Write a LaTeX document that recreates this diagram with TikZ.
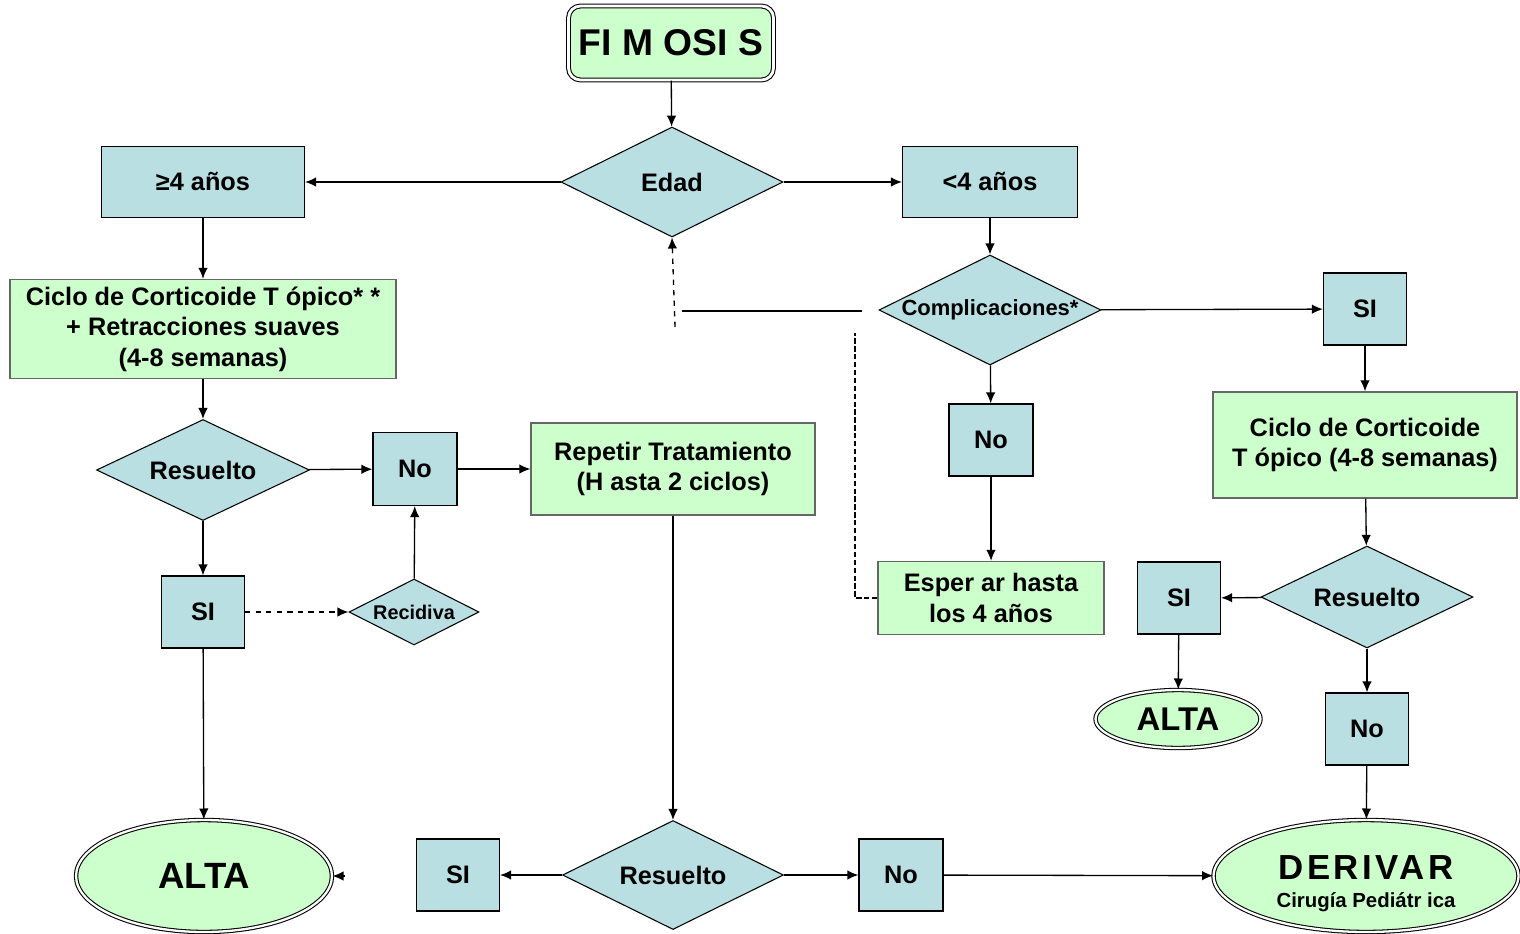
\documentclass[tikz,border=0pt]{standalone}
\usepackage{fontspec}
\setmainfont{Liberation Sans}
\usetikzlibrary{shapes.geometric,arrows.meta}
\definecolor{azul}{RGB}{185,223,227}
\definecolor{verdec}{RGB}{204,255,204}

\begin{document}
\begin{tikzpicture}[x=0.02cm,y=-0.02cm,
	font=\bfseries\fontsize{14.4}{17.3}\selectfont,
	caja/.style={draw,fill=azul,line width=0.7pt,inner sep=0pt,align=center},
	verde/.style={draw=black!60,fill=verdec,line width=0.8pt,inner sep=0pt,align=center},
	rombo/.style={diamond,draw,fill=azul,line width=0.6pt,inner sep=0pt,aspect=2},
	final/.style={ellipse,draw,double,double distance=1.3pt,line width=0.6pt,fill=verdec,inner sep=0pt,align=center},
	flecha/.style={->,>={Latex[length=2.2mm,width=1.9mm]},line width=0.75pt}]
			\useasboundingbox (0,0) rectangle (1520,933);
			% cabecera
			\node[draw,double,double distance=1.6pt,line width=0.6pt,fill=verdec,rounded corners=0.24cm,minimum width=4.1cm,minimum height=1.48cm,font=\bfseries\fontsize{21.2}{24}\selectfont] (fimosis) at (671,43){FI M OSI S};
			\node[rombo,minimum width=4.44cm,minimum height=2.2cm] (edad) at (672,182){Edad};
			\node[caja,minimum width=4.06cm,minimum height=1.42cm] (mayor) at (203,182){≥4 años};
			\node[caja,minimum width=3.5cm,minimum height=1.42cm] (menor) at (990,182){<4 años};
			% rama izquierda
			\node[verde,minimum width=7.72cm,minimum height=1.98cm] (ciclo1) at (203,329){Ciclo de Corticoide T ópico* *\\ + Retracciones suaves\\ (4-8 semanas)};
			\node[rombo,minimum width=4.26cm,minimum height=2.02cm] (res1) at (203,470){Resuelto};
			\node[caja,minimum width=1.68cm,minimum height=1.46cm] (no1) at (415,469){No};
			\node[verde,minimum width=5.68cm,minimum height=1.84cm] (repetir) at (673,469){Repetir Tratamiento\\(H asta 2 ciclos)};
			\node[caja,minimum width=1.66cm,minimum height=1.44cm] (si2) at (203,612){SI};
			\node[rombo,minimum width=2.6cm,minimum height=1.32cm,font=\bfseries\fontsize{11.3}{13}\selectfont] (recidiva) at (414,612){Recidiva};
			\node[final,minimum width=5.12cm,minimum height=2.24cm,font=\bfseries\fontsize{20.8}{24}\selectfont] (alta1) at (204,876){ALTA};
			\node[caja,minimum width=1.66cm,minimum height=1.44cm] (si4) at (458,875){SI};
			\node[rombo,minimum width=4.42cm,minimum height=2.18cm] (res2) at (673,875){Resuelto};
			\node[caja,minimum width=1.68cm,minimum height=1.44cm] (no4) at (901,875){No};
			% rama derecha
			\node[rombo,minimum width=4.44cm,minimum height=2.2cm,font=\bfseries\fontsize{12.5}{15}\selectfont] (compl) at (990,310){Complicaciones*};
			\node[caja,minimum width=1.66cm,minimum height=1.44cm] (si1) at (1365,309){SI};
			\node[caja,minimum width=1.68cm,minimum height=1.44cm] (no2) at (991,440){No};
			\node[verde,minimum width=4.52cm,minimum height=1.46cm] (esperar) at (991,598){Esper ar hasta\\los 4 años};
			\node[verde,minimum width=6.08cm,minimum height=2.12cm] (ciclo2) at (1365,445){Ciclo de Corticoide\\T ópico (4-8 semanas)};
			\node[rombo,minimum width=4.24cm,minimum height=2.04cm] (res3) at (1367,597){Resuelto};
			\node[caja,minimum width=1.66cm,minimum height=1.44cm] (si3) at (1179,598){SI};
			\node[final,minimum width=3.3cm,minimum height=1.16cm,font=\bfseries\fontsize{18.7}{22}\selectfont] (alta2) at (1178,719){ALTA};
			\node[caja,minimum width=1.66cm,minimum height=1.44cm] (no3) at (1367,729){No};
			\node[final,minimum width=6.1cm,minimum height=2.24cm] (derivar) at (1366,876){\rule{0pt}{0.78cm}{\fontsize{19.8}{22}\selectfont\addfontfeature{LetterSpace=10}DERIVAR}\\[-1pt]{\fontsize{11.6}{14}\selectfont Cirugía Pediátr ica}};
			% sueltos
			\coordinate (punta) at (345,876);
			\coordinate (d1) at (675,327);
			\coordinate (d2) at (855,333);
			\coordinate (l1) at (682,311);
			\coordinate (l2) at (862,311);
			% conectores
			\draw[flecha] (fimosis) -- (edad);
			\draw[flecha] (edad.west) -- (mayor.east);
			\draw[flecha] (edad.east) -- (menor.west);
			\draw[flecha] (mayor) -- (ciclo1);
			\draw[flecha] (menor) -- (compl);
			\draw[flecha] (compl) -- (si1);
			\draw[flecha] (si1) -- (ciclo2);
			\draw[flecha] (compl) -- (no2);
			\draw[flecha] (no2) -- (esperar);
			\draw[flecha] (ciclo1) -- (res1);
			\draw[flecha] (res1) -- (no1);
			\draw[flecha] (no1) -- (repetir);
			\draw[flecha] (res1) -- (si2);
			\draw[flecha,dashed] (si2) -- (recidiva);
			\draw[flecha] (recidiva) -- (no1);
			\draw[flecha] (si2) -- (alta1);
			\draw[flecha] (punta) -- (alta1.east);
			\draw[flecha] (repetir) -- (res2);
			\draw[flecha] (res2) -- (si4);
			\draw[flecha] (res2) -- (no4);
			\draw[flecha] (no4) -- (derivar);
			\draw[flecha] (ciclo2) -- (res3);
			\draw[flecha] (res3) -- (si3);
			\draw[flecha] (si3) -- (alta2);
			\draw[flecha] (res3) -- (no3);
			\draw[flecha] (no3) -- (derivar);
			\draw[flecha,dashed] (d1) -- (edad.south);
			\draw[line width=1.6pt] (l1) -- (l2);
			\draw[line width=0.6pt,dash pattern=on 3pt off 1.5pt] (esperar.west) -| (d2);
		\end{tikzpicture}
\end{document}
